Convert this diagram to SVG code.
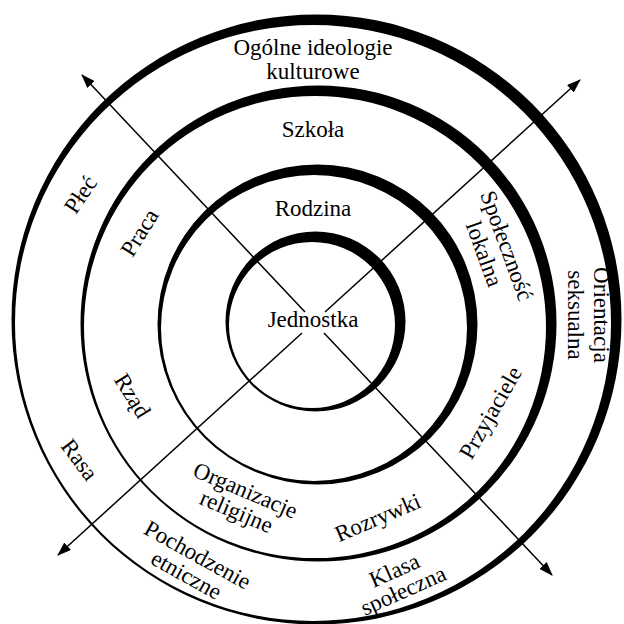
<svg xmlns="http://www.w3.org/2000/svg" width="624" height="624" viewBox="0 0 624 624">
<style>
.ring{fill:#000;fill-rule:evenodd;stroke:none}
.con{stroke:#000;stroke-width:1.5;fill:none}
.t{font-family:"Liberation Serif","Times New Roman",serif;font-size:23px;fill:#000;text-anchor:middle}
</style>
<defs>
<marker id="arr" viewBox="0 0 14 10" refX="13" refY="5" markerWidth="14" markerHeight="10" orient="auto" markerUnits="userSpaceOnUse">
<path d="M0,0 L14,5 L0,10 Z" fill="#000"/>
</marker>
</defs>
<rect width="624" height="624" fill="#fff"/>
<g id="rings">
<path id="ring4" class="ring" d="M11.5 319.5a305 305 0 1 0 610 0a305 305 0 1 0 -610 0Z M15 323a298 298 0 1 0 596 0a298 298 0 1 0 -596 0Z"/>
<path id="ring3" class="ring" d="M80.5 323.5a238 238 0 1 0 476 0a238 238 0 1 0 -476 0Z M84 327a231 231 0 1 0 462 0a231 231 0 1 0 -462 0Z"/>
<path id="ring2" class="ring" d="M157.5 324.5a160 160 0 1 0 320 0a160 160 0 1 0 -320 0Z M161 328a153 153 0 1 0 306 0a153 153 0 1 0 -306 0Z"/>
<path id="ring1" class="ring" d="M225.5 321.5a90 90 0 1 0 180 0a90 90 0 1 0 -180 0Z M229 325a83 83 0 1 0 166 0a83 83 0 1 0 -166 0Z"/>
</g>
<g id="connectors">
<path class="con" d="M305 312 L82 75" marker-end="url(#arr)"/>
<path class="con" d="M324 333 L552 575" marker-end="url(#arr)"/>
<path class="con" d="M325 312 L580 80" marker-end="url(#arr)"/>
<path class="con" d="M302 333 L58 555" marker-end="url(#arr)"/>
</g>
<g id="n-ogolne"><text class="t" x="313" y="55">Ogólne ideologie</text><text class="t" x="313" y="79">kulturowe</text></g>
<g id="n-szkola"><text class="t" x="313" y="137">Szkoła</text></g>
<g id="n-rodzina"><text class="t" x="313" y="216">Rodzina</text></g>
<g id="n-jednostka"><text class="t" x="313" y="327">Jednostka</text></g>
<g id="n-plec" transform="translate(81,195) rotate(-56)"><text class="t" x="0" y="7">Płeć</text></g>
<g id="n-praca" transform="translate(140,233) rotate(-58)"><text class="t" x="0" y="7">Praca</text></g>
<g id="n-spolecznosc" transform="translate(495,250) rotate(70)"><text class="t" x="0" y="-5">Społeczność</text><text class="t" x="0" y="19">lokalna</text></g>
<g id="n-orientacja" transform="translate(588,315) rotate(90)"><text class="t" x="0" y="-6">Orientacja</text><text class="t" x="0" y="20">seksualna</text></g>
<g id="n-przyjaciele" transform="translate(491,413) rotate(-60)"><text class="t" x="0" y="7">Przyjaciele</text></g>
<g id="n-rozrywki" transform="translate(378,518) rotate(-23)"><text class="t" x="0" y="7">Rozrywki</text></g>
<g id="n-klasa" transform="translate(399,581) rotate(-24)"><text class="t" x="0" y="-4">Klasa</text><text class="t" x="0" y="18">społeczna</text></g>
<g id="n-organizacje" transform="translate(241,501) rotate(23)"><text class="t" x="0" y="-4">Organizacje</text><text class="t" x="0" y="19">religijne</text></g>
<g id="n-pochodzenie" transform="translate(192,565) rotate(29)"><text class="t" x="0" y="-4">Pochodzenie</text><text class="t" x="0" y="19">etniczne</text></g>
<g id="n-rasa" transform="translate(79,460) rotate(53)"><text class="t" x="0" y="7">Rasa</text></g>
<g id="n-rzad" transform="translate(132,396) rotate(58)"><text class="t" x="0" y="7">Rząd</text></g>
</svg>
